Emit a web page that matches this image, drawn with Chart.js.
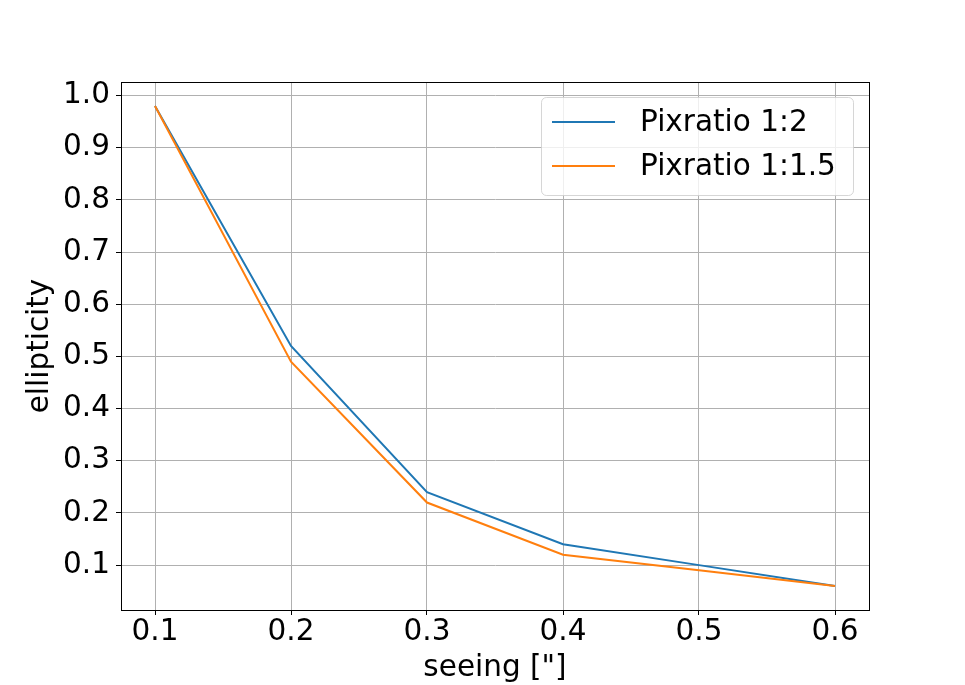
<!DOCTYPE html>
<html>
<head>
<meta charset="utf-8">
<script src="https://cdn.jsdelivr.net/npm/chart.js@4"></script>
<style>
    html, body { margin: 0; padding: 0; background: #fff; }
    canvas { display: block; }
</style>
</head>
<body>
<canvas id="chart" width="965" height="685"></canvas>
<script>
const seeing = [0.1, 0.2, 0.3, 0.4, 0.5, 0.6],
    ratio2 = [0.98, 0.52, 0.24, 0.14, 0.10, 0.06],
    ratio15 = [0.98, 0.49, 0.22, 0.12, 0.09, 0.06];

const xTicks = [0.1, 0.2, 0.3, 0.4, 0.5, 0.6],
    yTicks = [0.1, 0.2, 0.3, 0.4, 0.5, 0.6, 0.7, 0.8, 0.9, 1.0];

const labels = [`Pixratio 1:2`, `Pixratio 1:1.5`],
    colors = [`#1f77b4`, `#ff7f0e`];

const font = `'DejaVu Sans', sans-serif`,
    fontSize = 29.5;

// top/right spines like matplotlib
const frame = {
    id: `frame`,
    afterDatasetsDraw(chart) {
        const {ctx, chartArea: a} = chart;
        ctx.save();
        ctx.strokeStyle = `#000`;
        ctx.lineWidth = 1;
        ctx.strokeRect(Math.round(a.left) + 0.5, Math.round(a.top) + 0.5,
            Math.round(a.right - a.left), Math.round(a.bottom - a.top));
        ctx.restore();
    }
};

// legend box in the upper right
const legendBox = {
    id: `legendBox`,
    afterDraw(chart) {
        const ctx = chart.ctx;
        const x = 541.5, y = 97.5, w = 312, h = 98, r = 5;
        ctx.save();
        ctx.beginPath();
        ctx.roundRect(x, y, w, h, r);
        ctx.fillStyle = `rgba(255,255,255,0.8)`;
        ctx.fill();
        ctx.strokeStyle = `rgba(204,204,204,0.8)`;
        ctx.lineWidth = 1;
        ctx.stroke();

        ctx.font = `${fontSize}px ${font}`;
        ctx.textBaseline = `middle`;
        ctx.fillStyle = `#000`;
        chart.data.datasets.forEach((ds, i) => {
            const ly = 122 + i * 44;
            ctx.beginPath();
            ctx.moveTo(552, ly);
            ctx.lineTo(615, ly);
            ctx.strokeStyle = ds.borderColor;
            ctx.lineWidth = 2;
            ctx.stroke();
            ctx.fillText(ds.label, 640, ly + 1);
        });
        ctx.restore();
    }
};

const ctx = document.getElementById(`chart`).getContext(`2d`);

new Chart(ctx, {
    type: `line`,
    data: {
        datasets: [
            {
                label: labels[0],
                data: seeing.map((s, i) => ({x: s, y: ratio2[i]})),
                borderColor: colors[0],
                borderWidth: 2,
                pointRadius: 0,
                tension: 0,
                order: 1
            },
            {
                label: labels[1],
                data: seeing.map((s, i) => ({x: s, y: ratio15[i]})),
                borderColor: colors[1],
                borderWidth: 2,
                pointRadius: 0,
                tension: 0,
                order: 0
            }
        ]
    },
    options: {
        responsive: false,
        animation: false,
        layout: {padding: {top: 82, right: 96, left: 0, bottom: 0}},
        plugins: {
            legend: {display: false},
            tooltip: {enabled: false}
        },
        scales: {
            x: {
                type: `linear`,
                min: 0.075,
                max: 0.625,
                afterFit: s => { s.height = 75; },
                afterBuildTicks: s => { s.ticks = xTicks.map(v => ({value: v})); },
                grid: {color: `#b0b0b0`, lineWidth: 1, tickColor: `#000`, tickLength: 5},
                border: {color: `#000`, width: 1},
                ticks: {
                    color: `#000`,
                    font: {family: font, size: fontSize},
                    padding: 0,
                    maxRotation: 0,
                    callback: v => v.toFixed(1)
                },
                title: {
                    display: true,
                    text: `seeing ["]`,
                    color: `#000`,
                    font: {family: font, size: fontSize},
                    padding: {top: 0, bottom: -1}
                }
            },
            y: {
                type: `linear`,
                min: 0.014,
                max: 1.026,
                afterFit: s => { s.width = 121; },
                afterBuildTicks: s => { s.ticks = yTicks.map(v => ({value: v})); },
                grid: {color: `#b0b0b0`, lineWidth: 1, tickColor: `#000`, tickLength: 5},
                border: {color: `#000`, width: 1},
                ticks: {
                    color: `#000`,
                    font: {family: font, size: fontSize},
                    padding: 6,
                    callback: v => v.toFixed(1)
                },
                title: {
                    display: true,
                    text: `ellipticity`,
                    color: `#000`,
                    font: {family: font, size: fontSize},
                    padding: {top: 23, bottom: 0}
                }
            }
        }
    },
    plugins: [frame, legendBox]
});
</script>
</body>
</html>
